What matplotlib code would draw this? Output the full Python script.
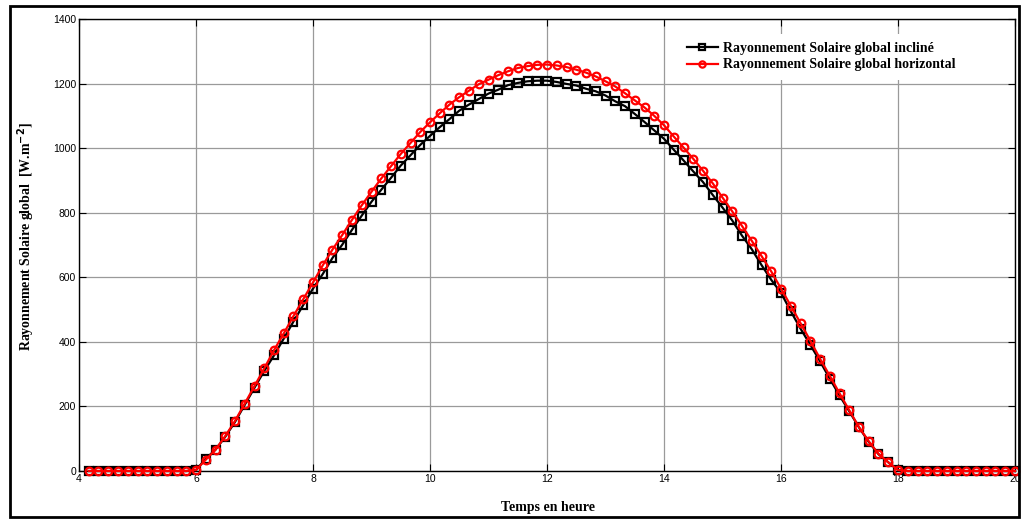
import numpy as np
import matplotlib
matplotlib.use("Agg")
import matplotlib.pyplot as plt
from matplotlib.patches import Rectangle

# ---- data (W/m^2), sampled every 10 minutes ----
night_before = [0] * 11          # 4h10 .. 5h50
night_after = [0] * 12           # 18h10 .. 20h00
incline_day = [3, 38, 66, 106, 152, 205, 258, 310, 358, 410, 463, 514, 565,
               610, 660, 701, 747, 791, 834, 871, 908, 946, 978, 1010, 1038,
               1065, 1090, 1116, 1135, 1152, 1169, 1181, 1195, 1202, 1207, 1209, 1209,
               1205, 1199, 1194, 1184, 1176, 1163, 1145, 1130, 1106, 1081, 1055, 1029,
               995, 962, 928, 895, 855, 816, 776, 729, 687, 638, 592, 552,
               495, 441, 391, 340, 286, 234, 185, 135, 90, 52, 27, 3]
horiz_day = [3, 35, 66, 108, 155, 209, 263, 318, 374, 426, 480, 532, 584,
             637, 686, 731, 778, 823, 865, 906, 944, 982, 1016, 1050, 1080,
             1108, 1135, 1158, 1178, 1198, 1212, 1226, 1238, 1248, 1254, 1258, 1259,
             1256, 1251, 1243, 1234, 1222, 1207, 1191, 1170, 1148, 1126, 1100, 1071,
             1036, 1002, 967, 930, 891, 847, 804, 759, 713, 666, 618, 565,
             512, 458, 404, 348, 295, 241, 188, 136, 92, 53, 27, 3]

incline = night_before + incline_day + night_after
horizontal = night_before + horiz_day + night_after
hours = 4 + np.arange(1, len(incline) + 1) / 6.0

xticks = [4, 6, 8, 10, 12, 14, 16, 18, 20]
yticks = [0, 200, 400, 600, 800, 1000, 1200, 1400]
labels = ["Rayonnement Solaire global incliné", "Rayonnement Solaire global horizontal"]

W, H = 1021, 519
fig = plt.figure(figsize=(W / 100, H / 100), dpi=100)
ax = fig.add_axes([79 / W, 1 - 471 / H, (1015 - 79) / W, (471 - 19) / H])

ax.plot(hours, incline, color="black", lw=1.6, marker="s", ms=5.5,
        mfc="none", mec="black", mew=1.6, label=labels[0], zorder=3, clip_on=False)
ax.plot(hours, horizontal, color="red", lw=1.6, marker="o", ms=5.5,
        mfc="none", mec="red", mew=1.6, label=labels[1], zorder=4, clip_on=False)

ax.set_xlim(4, 20)
ax.set_ylim(0, 1400)
ax.set_xticks(xticks)
ax.set_yticks(yticks)
ax.tick_params(direction="in", length=5, width=0.8, top=True, right=True,
               labelsize=7.5, pad=2, colors="black")
for lab in ax.get_xticklabels() + ax.get_yticklabels():
    lab.set_family(["Liberation Sans", "DejaVu Sans"])
ax.grid(True, color="#9a9a9a", lw=0.9, ls="-")
ax.set_axisbelow(True)
for s in ax.spines.values():
    s.set_linewidth(1.0)
    s.set_color("black")

serif = ["Liberation Serif", "DejaVu Serif"]
fig.text(548 / W, 1 - 508 / H, "Temps en heure", ha="center", va="center",
         fontsize=10, fontweight="bold", family=serif)
fig.text(26 / W, 1 - 237 / H, "Rayonnement Solaire global  [W.m$^{\\mathbf{-2}}$]",
         ha="center", va="center", rotation=90, fontsize=10, fontweight="bold", family=serif)

leg = ax.legend(loc="upper right", bbox_to_anchor=(0.953, 0.983), frameon=True,
                prop={"family": serif, "weight": "bold", "size": 10},
                handlelength=2.2, handletextpad=0.4, labelspacing=0.25,
                borderpad=0.6)
leg.get_frame().set_edgecolor("none")
leg.get_frame().set_facecolor("white")
leg.get_frame().set_alpha(1)
for h in leg.legend_handles:
    h.set_markersize(4.5)

fig.patches.append(Rectangle((10 / W, 1 - 517 / H), (1019 - 10) / W, (517 - 6) / H,
                             transform=fig.transFigure, fill=False, lw=2.0,
                             edgecolor="black"))

fig.savefig("out.png", dpi=100, facecolor="white")
